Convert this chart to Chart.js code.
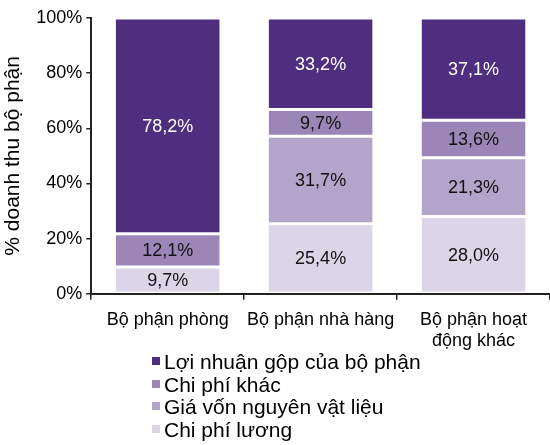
<!DOCTYPE html>
<html lang="vi">
<head>
    <meta charset="UTF-8">
    <title>Cơ cấu doanh thu bộ phận</title>
    <script src="https://cdn.jsdelivr.net/npm/chart.js"></script>
    <style>
        body { margin: 0; background: #fff; font-family: "Liberation Sans", Arial, sans-serif; }
        .wrap { position: relative; width: 550px; height: 445px; }
        .chart-box { position: absolute; left: 0; top: 0; width: 550px; height: 361px; }
        .legend { position: absolute; left: 152px; top: 351px; list-style: none; margin: 0; padding: 0; }
        .legend li { font-size: 21px; line-height: 22.7px; height: 22.7px; color: #000; white-space: nowrap; }
        .legend span { display: inline-block; width: 8px; height: 8px; margin-right: 4px; vertical-align: 4px; }
    </style>
</head>
<body>
<div class="wrap">
    <div class="chart-box"><canvas id="chart"></canvas></div>
    <ul class="legend" id="legend"></ul>
</div>

<script>
    // du lieu doc tu hinh
    const categories = ['Bộ phận phòng', 'Bộ phận nhà hàng', ['Bộ phận hoạt', 'động khác']];
    const luong = [9.7, 25.4, 28.0];
    const giaVon = [0, 31.7, 21.3];
    const chiPhiKhac = [12.1, 9.7, 13.6];
    const loiNhuan = [78.2, 33.2, 37.1];
    const yTicks = [0, 20, 40, 60, 80, 100];

    const seriesNames = ['Chi phí lương', 'Giá vốn nguyên vật liệu', 'Chi phí khác', 'Lợi nhuận gộp của bộ phận'];
    const seriesColors = ['#DCD5E7', '#B3A5C9', '#9B86B7', '#4F2D7F'];
    const labelColors = ['#111', '#111', '#111', '#fff'];

    const FONT = '"Liberation Sans", Arial, sans-serif';

    // ghi so lieu vao giua moi doan cot
    const valueLabels = {
        id: 'valueLabels',
        afterDatasetsDraw(chart) {
            const ctx = chart.ctx;
            ctx.save();
            ctx.font = '18px ' + FONT;
            ctx.textAlign = 'center';
            ctx.textBaseline = 'middle';
            chart.data.datasets.forEach((ds, i) => {
                const meta = chart.getDatasetMeta(i);
                meta.data.forEach((bar, j) => {
                    const v = ds.data[j];
                    if (!v) return;
                    const p = bar.getProps(['x', 'y', 'base'], true);
                    ctx.fillStyle = labelColors[i];
                    ctx.fillText(v.toFixed(1).replace('.', ',') + '%', p.x, (p.y + p.base) / 2 + 1);
                });
            });
            ctx.restore();
        }
    };

    const datasets = [luong, giaVon, chiPhiKhac, loiNhuan].map((d, i) => ({
        label: seriesNames[i],
        data: d,
        backgroundColor: seriesColors[i],
        borderColor: '#fff',
        borderWidth: { top: 1.5, bottom: 1.5, left: 0, right: 0 },
        borderSkipped: false,
        categoryPercentage: 1,
        barPercentage: 0.68
    }));

    new Chart(document.getElementById('chart'), {
        type: 'bar',
        data: { labels: categories, datasets: datasets },
        options: {
            responsive: true,
            maintainAspectRatio: false,
            animation: false,
            layout: { padding: { top: 18, right: 0, left: 1, bottom: 0 } },
            plugins: {
                legend: { display: false },
                tooltip: { enabled: false }
            },
            scales: {
                x: {
                    stacked: true,
                    grid: { display: true, drawOnChartArea: false, color: '#222', tickLength: 6, lineWidth: 1.5 },
                    border: { color: '#222', width: 2 },
                    ticks: { color: '#000', font: { family: FONT, size: 18 }, padding: 9, maxRotation: 0 }
                },
                y: {
                    stacked: true,
                    min: 0,
                    max: 100,
                    afterBuildTicks(axis) { axis.ticks = yTicks.map(v => ({ value: v })); },
                    grid: { display: true, drawOnChartArea: false, color: '#222', tickLength: 5, lineWidth: 1.5 },
                    border: { color: '#222', width: 2 },
                    ticks: {
                        color: '#000',
                        font: { family: FONT, size: 18 },
                        padding: 4,
                        callback: v => v + '%'
                    },
                    title: {
                        display: true,
                        text: '% doanh thu bộ phận',
                        color: '#000',
                        font: { family: FONT, size: 21 },
                        padding: { top: 0, bottom: 6 }
                    }
                }
            }
        },
        plugins: [valueLabels]
    });

    // chu giai: thu tu nguoc voi thu tu chong cot
    const legendEl = document.getElementById('legend');
    for (let i = seriesNames.length - 1; i >= 0; i--) {
        const li = document.createElement('li');
        const sw = document.createElement('span');
        sw.style.background = seriesColors[i];
        li.appendChild(sw);
        li.appendChild(document.createTextNode(seriesNames[i]));
        legendEl.appendChild(li);
    }
</script>
</body>
</html>
